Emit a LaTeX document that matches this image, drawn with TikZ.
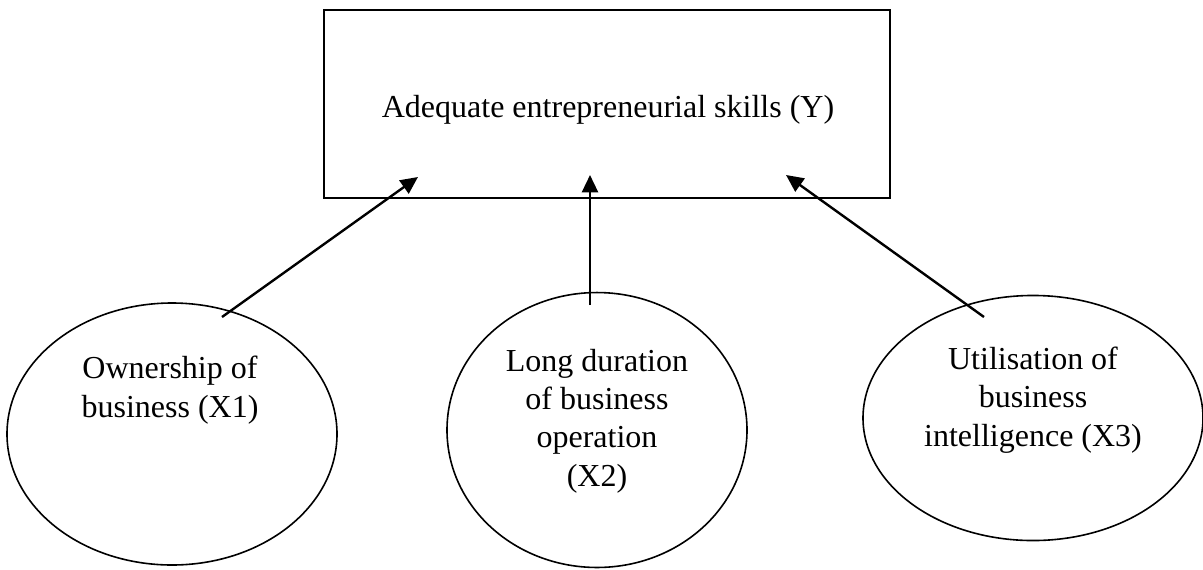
\documentclass[tikz,border=0pt]{standalone}
\usepackage{fontspec}
\setmainfont{Liberation Serif}
\usetikzlibrary{arrows.meta,shapes.geometric,positioning}

\begin{document}
\begin{tikzpicture}[x=0.375pt,y=-0.375pt,>={Triangle[length=6.5pt,width=6pt]},
    skillbox/.style={draw,line width=0.9pt,inner sep=0pt},
    factor/.style={draw,ellipse,line width=0.6pt,inner sep=0pt},
    lbl/.style={align=center,inner sep=0pt,font=\fontsize{12pt}{14.4pt}\selectfont},
    link/.style={->,line width=0.9pt}]
      \useasboundingbox (0,0) rectangle (1203,569);
      % dependent variable
      \node[skillbox,minimum width=212.25pt,minimum height=70.5pt] (Y) at (607,104) {};
      \node[lbl] (Ytext) at (608,110) {Adequate entrepreneurial skills (Y)};
      % independent variables
      \node[factor,minimum width=123.75pt,minimum height=98.25pt] (X1) at (172,434) {};
      \node[factor,minimum width=112.5pt,minimum height=103.1pt] (X2) at (597,430) {};
      \node[factor,minimum width=127.5pt,minimum height=91.9pt] (X3) at (1033,418) {};
      \node[lbl] (X1text) at (170,390) {Ownership of\\business (X1)};
      \node[lbl] (X2text) at (597,421) {Long duration\\of business\\operation\\(X2)};
      \node[lbl] (X3text) at (1033,400) {Utilisation of\\business\\intelligence (X3)};
      % arrow ends
      \coordinate (t1) at (222,317);
      \coordinate (h1) at (418,177);
      \coordinate (t2) at (590,305);
      \coordinate (h2) at (590,175);
      \coordinate (t3) at (984,317);
      \coordinate (h3) at (786,175);
      \draw[link] (t1) -- (h1);
      \draw[link] (t2) -- (h2);
      \draw[link] (t3) -- (h3);
    \end{tikzpicture}
\end{document}
